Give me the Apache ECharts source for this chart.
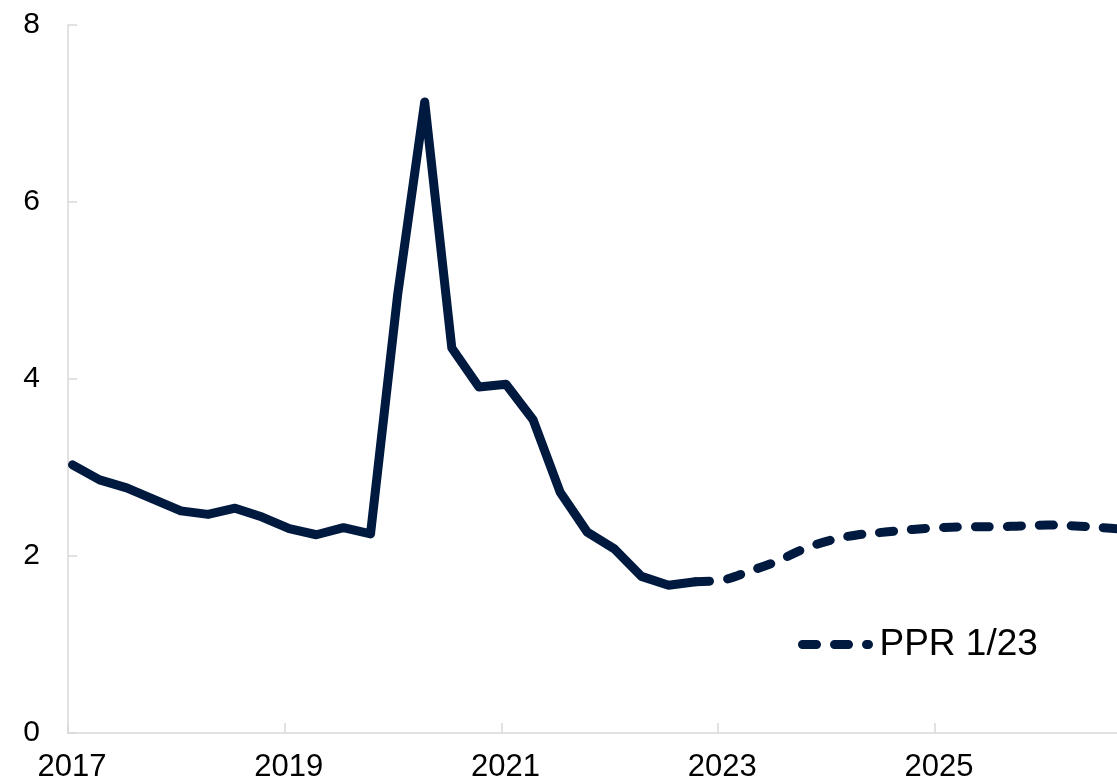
<!DOCTYPE html>
<html>
<head>
<meta charset="utf-8">
<script src="https://cdn.jsdelivr.net/npm/echarts@6/dist/echarts.min.js"></script>
<style>
html,body{margin:0;padding:0;background:#fff;}
#chart{width:1117px;height:784px;}
</style>
</head>
<body>
<div id="chart"></div>
<script>
var actualQuarters=['2017Q1','2017Q2','2017Q3','2017Q4','2018Q1','2018Q2','2018Q3','2018Q4',
    '2019Q1','2019Q2','2019Q3','2019Q4','2020Q1','2020Q2','2020Q3','2020Q4',
    '2021Q1','2021Q2','2021Q3','2021Q4','2022Q1','2022Q2','2022Q3','2022Q4'];
var actualValues=[3.03,2.86,2.77,2.64,2.51,2.47,2.54,2.44,
    2.31,2.24,2.32,2.25,4.95,7.13,4.35,3.91,
    3.94,3.54,2.72,2.27,2.08,1.77,1.67,1.71];
var forecastQuarters=['2022Q4','2023Q1','2023Q2','2023Q3','2023Q4','2024Q1','2024Q2','2024Q3','2024Q4',
    '2025Q1','2025Q2','2025Q3','2025Q4','2026Q1','2026Q2','2026Q3','2026Q4'];
var forecastValues=[1.71,1.73,1.83,1.94,2.08,2.18,2.24,2.27,2.30,
    2.32,2.33,2.33,2.34,2.35,2.34,2.32,2.30];
var yTicks=[0,2,4,6,8];
var forecastName='PPR 1/23';

var navy='#00193f';
var font='"Liberation Sans", Arial, sans-serif';

// quarter -> decimal year (middle of the first month of the quarter)
function qx(s){
    var y=parseInt(s.substr(0,4));
    var q=parseInt(s.substr(5,1));
    return y+(q-1)/4+0.5/12;
}
function pairs(qs,vals){
    var out=[];
    for(var i=0;i<qs.length;i++){
        out.push([qx(qs[i]),vals[i]]);
    }
    return out;
}

var chart=echarts.init(document.getElementById('chart'));
var option={
    animation:false,
    backgroundColor:'#fff',
    grid:{left:68,right:0,top:25,bottom:51,containLabel:false},
    legend:{
        data:[forecastName],
        left:793,
        top:621,
        itemWidth:66,
        itemHeight:14,
        itemGap:0,
        itemStyle:{opacity:0},
        lineStyle:{color:navy,width:9,type:[14,18],cap:'round'},
        textStyle:{fontFamily:font,fontSize:37,color:'#000',padding:[0,0,0,6]}
    },
    xAxis:{
        type:'value',
        min:2017,
        max:2026.68,
        interval:2,
        splitLine:{show:false},
        axisLine:{lineStyle:{color:'#d9d9d9',width:1.5}},
        axisTick:{inside:true,length:10,lineStyle:{color:'#d9d9d9',width:1.5}},
        axisLabel:{
            fontFamily:font,fontSize:31,color:'#000',margin:19,
            padding:[0,0,0,8],
            showMaxLabel:false,
            formatter:function(v){return (v%1===0)?String(v):'';}
        }
    },
    yAxis:{
        type:'value',
        min:yTicks[0],
        max:yTicks[yTicks.length-1],
        interval:2,
        splitLine:{show:false},
        axisLine:{show:true,lineStyle:{color:'#d9d9d9',width:1.5}},
        axisTick:{show:true,inside:true,length:9,lineStyle:{color:'#d9d9d9',width:1.5}},
        axisLabel:{fontFamily:font,fontSize:30,color:'#000',margin:28}
    },
    series:[
        {
            name:'Actual',
            type:'line',
            data:pairs(actualQuarters,actualValues),
            showSymbol:false,
            lineStyle:{color:navy,width:9,cap:'round',join:'round'},
            itemStyle:{color:navy},
            z:3
        },
        {
            name:forecastName,
            type:'line',
            data:pairs(forecastQuarters,forecastValues),
            smooth:0.4,
            showSymbol:false,
            symbol:'none',
            lineStyle:{color:navy,width:9,type:[14,18],cap:'round',join:'round'},
            itemStyle:{color:navy},
            z:2
        }
    ]
};
chart.setOption(option);
</script>
</body>
</html>
